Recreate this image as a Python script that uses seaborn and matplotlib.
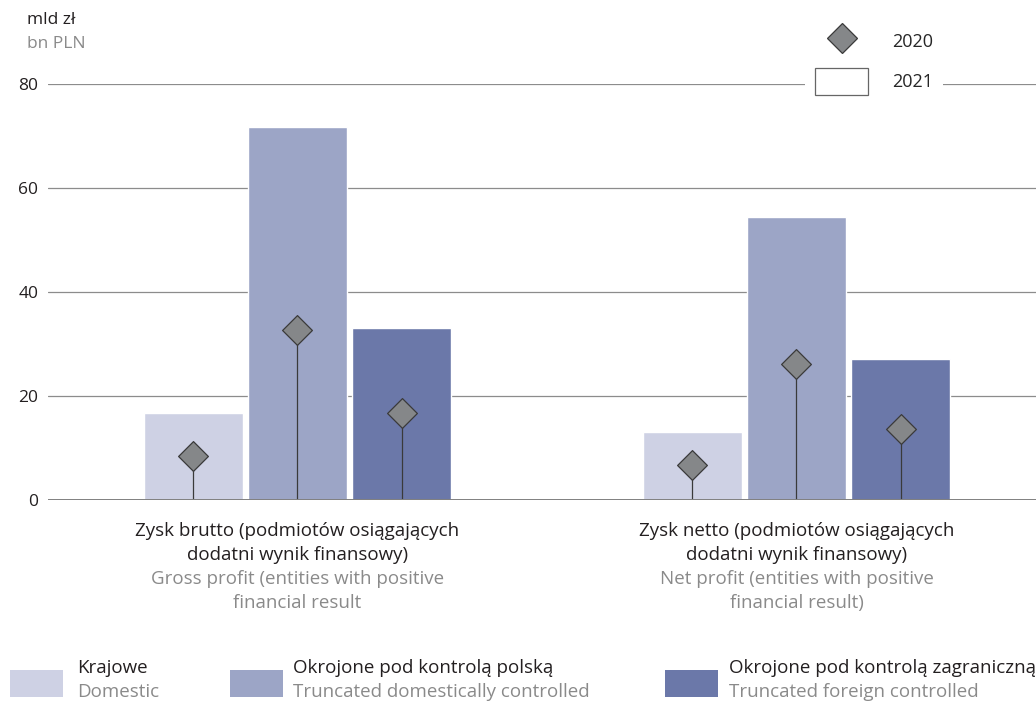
import pandas as pd
import matplotlib.pyplot as plt
import seaborn as sns
from matplotlib.lines import Line2D
from matplotlib.patches import Patch, Rectangle

# data
categories_pl = ["Zysk brutto (podmiotów osiągających\ndodatni wynik finansowy)",
                 "Zysk netto (podmiotów osiągających\ndodatni wynik finansowy)"]
categories_en = ["Gross profit (entities with positive\nfinancial result",
                 "Net profit (entities with positive\nfinancial result)"]
groups_pl = ["Krajowe", "Okrojone pod kontrolą polską", "Okrojone pod kontrolą zagraniczną"]
groups_en = ["Domestic", "Truncated domestically controlled", "Truncated foreign controlled"]
values_2021 = [[16.8, 13.1], [71.8, 54.5], [33.1, 27.1]]
values_2020 = [[8.5, 6.7], [32.7, 26.1], [16.7, 13.6]]
yticks = [0, 20, 40, 60, 80]

colors = ["#ced1e4", "#9ca5c6", "#6b78a9"]
dark = "#231f20"
grey_txt = "#8a8a8a"
FS = 13.5        # labels
FS_TICK = 12.5
FS_LEG = 13
PX = 72 / 100    # points per pixel

rows = []
for g, vals in zip(groups_pl, values_2021):
    for c, v in zip(categories_pl, vals):
        rows.append({"kat": c, "grupa": g, "wartosc": v})
df = pd.DataFrame(rows)

sns.set_theme(style="white")
plt.rcParams['font.family'] = ['Open Sans', 'DejaVu Sans']

fig = plt.figure(figsize=(10.36, 7.03), dpi=100)
ax = fig.add_axes([48 / 1036, 1 - 500 / 703, 1 - 48 / 1036, (500 - 84) / 703])

sns.barplot(data=df, x="kat", y="wartosc", hue="grupa", order=categories_pl,
            hue_order=groups_pl, palette=colors, width=0.626, gap=0.048,
            saturation=1, legend=False, ax=ax, zorder=2)

# 2020 diamonds on stems
for i, cont in enumerate(ax.containers):
    for j, bar in enumerate(cont):
        xc = bar.get_x() + bar.get_width() / 2
        v = values_2020[i][j]
        ax.vlines(xc, 0, v, color="#3a3a3a", lw=0.9, zorder=3)
        ax.scatter([xc], [v], marker="D", s=230, color="#858789",
                   edgecolor="#3a3a3a", linewidth=0.9, zorder=4)

ax.set_xlim(-0.5, 1.48)
ax.set_ylim(0, 80)
ax.set_yticks(yticks)
ax.set_yticklabels([str(t) for t in yticks], fontsize=FS_TICK, color=dark)
ax.tick_params(axis="y", length=0, pad=7)
ax.tick_params(axis="x", length=0)
ax.set_xticks([0, 1])
ax.set_xticklabels([])
ax.set_xlabel("")
ax.set_ylabel("")
ax.yaxis.grid(True, color="#8c8c8c", lw=0.9, zorder=0)
ax.set_axisbelow(True)
for s in ax.spines.values():
    s.set_visible(False)
ax.axhline(0, color="#808080", lw=1.4, zorder=5)

# category labels, one line at a time (baselines 24 px apart)
for k in range(len(categories_pl)):
    lines = [(t, dark) for t in categories_pl[k].split("\n")] + \
            [(t, grey_txt) for t in categories_en[k].split("\n")]
    for n, (t, col) in enumerate(lines):
        ax.annotate(t, xy=(k, 0), xycoords=("data", "axes fraction"),
                    xytext=(0, -(36 + 24 * n) * PX), textcoords="offset points",
                    ha="center", va="baseline", fontsize=FS, color=col)

# units
fig.text(27 / 1036, 1 - 20 / 703, "mld zł", fontsize=FS_TICK, color=dark, va="center")
fig.text(27 / 1036, 1 - 44 / 703, "bn PLN", fontsize=FS_TICK, color=grey_txt, va="center")

# top legend
fs_px = FS_LEG / PX
box_h = 27 / fs_px
handles = [Line2D([], [], marker="D", ls="none", markersize=15, markerfacecolor="#858789",
                  markeredgecolor="#3a3a3a", markeredgewidth=0.9),
           Patch(facecolor="white", edgecolor="#666666", linewidth=0.9)]
leg = ax.legend(handles, ["2020", "2021"], loc="upper left",
                bbox_to_anchor=(805 / 1036, 1 - 18 / 703), bbox_transform=fig.transFigure,
                frameon=True, facecolor="white", edgecolor="none", framealpha=1,
                fontsize=FS_LEG, handlelength=53 / fs_px,
                handleheight=(box_h - 0.245) / 0.65,
                labelspacing=13 / fs_px, handletextpad=24 / fs_px,
                borderpad=10 / fs_px, borderaxespad=0)
leg.set_zorder(10)

# bottom legend
box_x = [10, 230, 665]
text_x = [77, 293, 729]
for k in range(len(groups_pl)):
    fig.patches.append(Rectangle((box_x[k] / 1036, 1 - 697 / 703), 53 / 1036, 27 / 703,
                                 transform=fig.transFigure, facecolor=colors[k],
                                 edgecolor="none"))
    fig.text(text_x[k] / 1036, 1 - 668 / 703, groups_pl[k], fontsize=FS, color=dark, va="center")
    fig.text(text_x[k] / 1036, 1 - 692 / 703, groups_en[k], fontsize=FS, color=grey_txt, va="center")

plt.savefig("out.png", dpi=100)
